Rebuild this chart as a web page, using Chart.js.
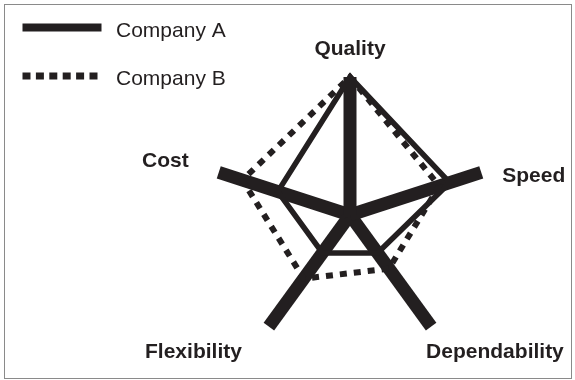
<!DOCTYPE html>
<html>
<head>
<meta charset="utf-8">
<script src="https://cdn.jsdelivr.net/npm/chart.js@4/dist/chart.umd.min.js"></script>
<style>
  html, body { margin: 0; padding: 0; background: #ffffff; }
  #wrap { width: 575px; height: 380px; position: relative; }
  canvas { display: block; }
</style>
</head>
<body>
<div id="wrap"><canvas id="c" width="575" height="380"></canvas></div>
<script>
// ---- data ----
const categories = ['Quality', 'Speed', 'Dependability', 'Flexibility', 'Cost'];
const seriesNames = ['Company A', 'Company B'];
const companyA = [10, 7.6, 3.4, 3.4, 5.5];
const companyB = [10, 6.8, 4.8, 5.7, 8.2];
const scaleMin = 0;
const scaleMax = 10;

// ---- styles ----
const INK = '#231f20';
const FONT = '"Liberation Sans", Arial, Helvetica, sans-serif';
// placement of each category label relative to the tip of its spoke
const labelPlacement = [
  { align: 'center', dx: 0,   dy: -22 },
  { align: 'left',   dx: 21,  dy: 9.5 },
  { align: 'left',   dx: -5,  dy: 31.5 },
  { align: 'right',  dx: -27, dy: 31.5 },
  { align: 'right',  dx: -30, dy: -5.5 }
];

const framePlugin = {
  id: 'frame',
  beforeDraw(chart) {
    const ctx = chart.ctx;
    ctx.save();
    ctx.fillStyle = '#ffffff';
    ctx.fillRect(0, 0, chart.width, chart.height);
    ctx.strokeStyle = '#8a8a8a';
    ctx.lineWidth = 1;
    ctx.strokeRect(4.5, 4.5, 567, 374);
    ctx.restore();
  }
};

const pointLabelPlugin = {
  id: 'pointLabelsCustom',
  afterDraw(chart) {
    const scale = chart.scales.r;
    const ctx = chart.ctx;
    ctx.save();
    ctx.fillStyle = INK;
    ctx.font = 'bold 21px ' + FONT;
    ctx.textBaseline = 'alphabetic';
    chart.data.labels.forEach((lab, i) => {
      const p = scale.getPointPosition(i, scale.drawingArea);
      const pl = labelPlacement[i];
      ctx.textAlign = pl.align;
      ctx.fillText(lab, p.x + pl.dx, p.y + pl.dy);
    });
    ctx.restore();
  }
};

const legendPlugin = {
  id: 'lineLegend',
  afterDraw(chart, args, opts) {
    const ctx = chart.ctx;
    ctx.save();
    chart.data.datasets.forEach((ds, i) => {
      const y = opts.top + i * opts.gap;
      ctx.beginPath();
      ctx.strokeStyle = ds.borderColor;
      ctx.lineWidth = opts.lineWidths[i];
      ctx.lineCap = 'butt';
      ctx.setLineDash(opts.dashes[i]);
      ctx.moveTo(opts.x0, y);
      ctx.lineTo(opts.x1, y);
      ctx.stroke();
      ctx.setLineDash([]);
      ctx.fillStyle = INK;
      ctx.font = '21px ' + FONT;
      ctx.textAlign = 'left';
      ctx.textBaseline = 'alphabetic';
      ctx.fillText(ds.label, opts.textX, y + opts.textDy);
    });
    ctx.restore();
  }
};

new Chart(document.getElementById('c'), {
  type: 'radar',
  data: {
    labels: categories,
    datasets: [
      {
        label: seriesNames[0],
        data: companyA,
        borderColor: INK,
        borderWidth: 5.5,
        fill: false,
        pointRadius: 0,
        pointHoverRadius: 0,
        tension: 0
      },
      {
        label: seriesNames[1],
        data: companyB,
        borderColor: INK,
        borderWidth: 6,
        borderDash: [7, 7],
        fill: false,
        pointRadius: 0,
        pointHoverRadius: 0,
        tension: 0
      }
    ]
  },
  options: {
    responsive: false,
    animation: false,
    layout: { padding: { left: 212, right: 87, top: 77, bottom: 27 } },
    plugins: {
      legend: { display: false },
      tooltip: { enabled: false },
      lineLegend: {
        x0: 22.5, x1: 101.5, top: 27.5, gap: 48.5, textX: 116, textDy: 9,
        lineWidths: [8, 7], dashes: [[], [8, 5.4]]
      }
    },
    scales: {
      r: {
        min: scaleMin,
        max: scaleMax,
        ticks: { display: false },
        grid: { display: false },
        angleLines: { display: true, color: INK, lineWidth: 13 },
        pointLabels: { display: false }
      }
    }
  },
  plugins: [framePlugin, pointLabelPlugin, legendPlugin]
});
</script>
</body>
</html>
